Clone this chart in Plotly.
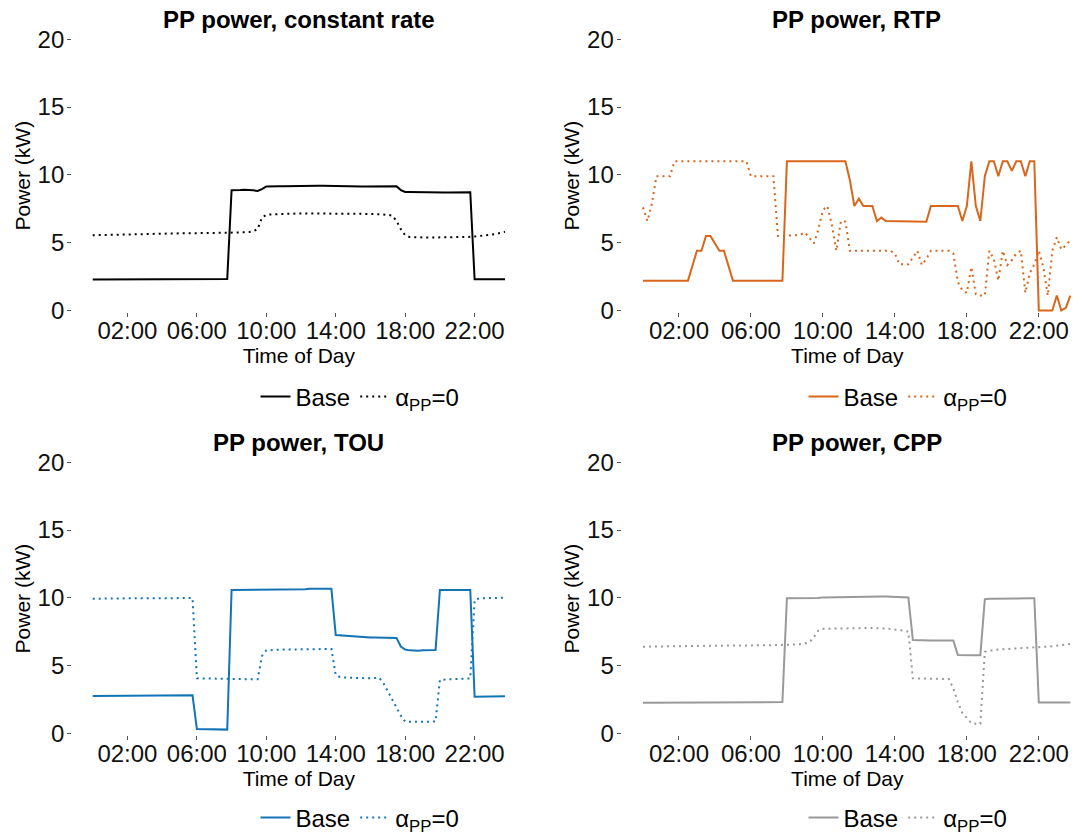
import plotly.graph_objects as go

# 15-minute resolution over one day (hours after midnight)
STEPS_PER_HOUR = 4
TIME_H = [i / STEPS_PER_HOUR for i in range(24 * STEPS_PER_HOUR)]

TICK_HOURS = [2, 6, 10, 14, 18, 22]
TICK_LABELS = ["02:00", "06:00", "10:00", "14:00", "18:00", "22:00"]
Y_TICKS = [0, 5, 10, 15, 20]

PANEL_TITLES = ["PP power, constant rate", "PP power, RTP", "PP power, TOU", "PP power, CPP"]
SERIES_NAMES = ["Base", "α<sub>PP</sub>=0"]

# ---- constant rate (kW), rows of two hours ----
CONST_BASE = [
    2.28, 2.28, 2.28, 2.28, 2.28, 2.28, 2.28, 2.28,
    2.29, 2.29, 2.29, 2.29, 2.29, 2.29, 2.29, 2.29,
    2.30, 2.30, 2.30, 2.30, 2.30, 2.30, 2.30, 2.30,
    2.31, 2.31, 2.31, 2.31, 2.32, 2.32, 2.32, 2.33,
    8.87, 8.90, 8.88, 8.90, 8.90, 8.86, 8.82, 8.95,
    9.15, 9.17, 9.17, 9.16, 9.16, 9.17, 9.17, 9.18,
    9.18, 9.19, 9.20, 9.20, 9.19, 9.19, 9.18, 9.18,
    9.17, 9.16, 9.16, 9.16, 9.16, 9.16, 9.15, 9.15,
    9.15, 9.15, 9.15, 9.16, 9.16, 9.16, 9.16, 8.88,
    8.74, 8.74, 8.73, 8.73, 8.73, 8.72, 8.72, 8.72,
    8.71, 8.71, 8.71, 8.72, 8.72, 8.72, 8.72, 8.72,
    2.30, 2.30, 2.30, 2.30, 2.30, 2.30, 2.30, 2.30,
]
CONST_PP0 = [
    5.55, 5.56, 5.57, 5.58, 5.58, 5.59, 5.60, 5.61,
    5.62, 5.63, 5.63, 5.64, 5.65, 5.65, 5.66, 5.66,
    5.67, 5.67, 5.68, 5.68, 5.69, 5.69, 5.70, 5.70,
    5.70, 5.71, 5.71, 5.72, 5.72, 5.73, 5.73, 5.73,
    5.74, 5.74, 5.75, 5.76, 5.78, 5.85, 6.00, 6.85,
    7.05, 7.08, 7.10, 7.12, 7.13, 7.14, 7.15, 7.15,
    7.16, 7.16, 7.16, 7.17, 7.17, 7.17, 7.17, 7.17,
    7.16, 7.16, 7.16, 7.15, 7.15, 7.14, 7.14, 7.13,
    7.12, 7.11, 7.10, 7.08, 7.05, 7.00, 6.60, 6.00,
    5.55, 5.42, 5.40, 5.39, 5.38, 5.38, 5.38, 5.38,
    5.38, 5.39, 5.39, 5.40, 5.40, 5.41, 5.42, 5.43,
    5.45, 5.48, 5.52, 5.56, 5.60, 5.65, 5.72, 5.80,
]

# ---- real-time pricing (kW) ----
RTP_BASE = [
    2.2, 2.2, 2.2, 2.2, 2.2, 2.2, 2.2, 2.2,
    2.2, 2.2, 2.2, 3.3, 4.4, 4.4, 5.5, 5.5,
    5.0, 4.4, 4.4, 3.3, 2.2, 2.2, 2.2, 2.2,
    2.2, 2.2, 2.2, 2.2, 2.2, 2.2, 2.2, 2.2,
    11.0, 11.0, 11.0, 11.0, 11.0, 11.0, 11.0, 11.0,
    11.0, 11.0, 11.0, 11.0, 11.0, 11.0, 9.6, 7.7,
    8.25, 7.7, 7.7, 7.7, 6.6, 6.85, 6.6, 6.6,
    6.6, 6.6, 6.6, 6.6, 6.6, 6.6, 6.57, 6.55,
    7.7, 7.7, 7.7, 7.7, 7.7, 7.7, 7.7, 6.6,
    7.7, 11.0, 7.7, 6.6, 9.9, 11.0, 11.0, 9.9,
    11.0, 11.0, 10.3, 11.0, 11.0, 9.9, 11.0, 11.0,
    0.0, 0.0, 0.0, 0.0, 1.1, 0.0, 0.2, 1.1,
]
RTP_PP0 = [
    7.6, 6.6, 7.9, 9.9, 9.9, 9.9, 9.9, 11.0,
    11.0, 11.0, 11.0, 11.0, 11.0, 11.0, 11.0, 11.0,
    11.0, 11.0, 11.0, 11.0, 11.0, 11.0, 11.0, 11.0,
    9.9, 9.9, 9.9, 9.9, 9.9, 9.9, 5.5, 5.5,
    5.5, 5.5, 5.55, 5.6, 5.75, 5.35, 4.95, 6.0,
    7.4, 7.7, 6.3, 4.4, 6.6, 6.55, 4.4, 4.4,
    4.4, 4.4, 4.4, 4.4, 4.4, 4.4, 4.4, 4.4,
    4.2, 3.4, 3.4, 3.4, 3.9, 4.4, 3.35, 3.8,
    4.4, 4.4, 4.4, 4.4, 4.4, 4.2, 2.1, 1.5,
    1.3, 3.2, 1.2, 1.1, 1.1, 4.4, 3.8, 2.2,
    4.4, 3.35, 3.7, 4.2, 4.4, 1.3, 2.75, 3.4,
    4.4, 3.2, 1.1, 4.4, 5.4, 4.5, 4.8, 5.2,
]

# ---- time-of-use (kW) ----
TOU_BASE = [
    2.75, 2.75, 2.75, 2.75, 2.75, 2.75, 2.75, 2.75,
    2.76, 2.76, 2.76, 2.76, 2.76, 2.76, 2.76, 2.76,
    2.78, 2.78, 2.78, 2.78, 2.79, 2.79, 2.79, 2.80,
    0.32, 0.31, 0.30, 0.30, 0.29, 0.28, 0.28, 0.27,
    10.58, 10.58, 10.58, 10.58, 10.58, 10.58, 10.58, 10.58,
    10.58, 10.58, 10.59, 10.59, 10.60, 10.60, 10.60, 10.61,
    10.62, 10.63, 10.66, 10.66, 10.66, 10.66, 10.66, 10.66,
    7.25, 7.22, 7.20, 7.18, 7.15, 7.12, 7.08, 7.07,
    7.06, 7.06, 7.06, 7.06, 7.06, 7.05, 7.04, 6.40,
    6.18, 6.12, 6.10, 6.10, 6.12, 6.12, 6.14, 6.15,
    10.58, 10.58, 10.58, 10.58, 10.58, 10.58, 10.58, 10.58,
    2.70, 2.70, 2.72, 2.72, 2.72, 2.73, 2.73, 2.73,
]
TOU_PP0 = [
    9.93, 9.94, 9.94, 9.95, 9.95, 9.95, 9.95, 9.95,
    9.96, 9.96, 9.96, 9.96, 9.96, 9.96, 9.96, 9.96,
    9.97, 9.97, 9.97, 9.98, 9.98, 9.98, 9.98, 9.98,
    4.06, 4.05, 4.04, 4.03, 4.02, 4.01, 4.00, 3.99,
    3.98, 3.98, 3.98, 3.98, 3.98, 3.98, 3.99, 5.70,
    6.12, 6.15, 6.16, 6.17, 6.18, 6.18, 6.19, 6.19,
    6.20, 6.20, 6.21, 6.22, 6.23, 6.22, 6.22, 6.22,
    4.30, 4.15, 4.12, 4.10, 4.08, 4.07, 4.06, 4.06,
    4.06, 4.06, 4.10, 3.70, 3.10, 2.50, 1.97, 1.30,
    0.86, 0.85, 0.85, 0.85, 0.85, 0.85, 0.86, 0.86,
    3.93, 3.97, 3.98, 3.99, 4.00, 4.02, 4.03, 4.05,
    9.84, 9.95, 9.97, 9.98, 9.99, 10.0, 10.0, 10.0,
]

# ---- critical peak pricing (kW) ----
CPP_BASE = [
    2.26, 2.26, 2.26, 2.26, 2.26, 2.26, 2.26, 2.26,
    2.27, 2.27, 2.27, 2.27, 2.27, 2.27, 2.27, 2.27,
    2.28, 2.28, 2.28, 2.28, 2.28, 2.28, 2.28, 2.28,
    2.29, 2.29, 2.29, 2.29, 2.30, 2.30, 2.30, 2.30,
    9.96, 9.96, 9.95, 9.95, 9.95, 9.94, 9.94, 9.98,
    10.03, 10.04, 10.05, 10.05, 10.06, 10.06, 10.06, 10.07,
    10.08, 10.08, 10.09, 10.10, 10.10, 10.10, 10.09, 10.08,
    10.06, 10.05, 10.04, 10.03, 6.89, 6.87, 6.86, 6.85,
    6.85, 6.85, 6.85, 6.85, 6.85, 6.84, 5.78, 5.76,
    5.75, 5.75, 5.75, 5.75, 9.90, 9.92, 9.93, 9.94,
    9.95, 9.95, 9.96, 9.96, 9.96, 9.96, 9.96, 9.96,
    2.28, 2.28, 2.28, 2.28, 2.28, 2.28, 2.28, 2.28,
]
CPP_PP0 = [
    6.39, 6.39, 6.40, 6.40, 6.41, 6.41, 6.42, 6.42,
    6.43, 6.43, 6.44, 6.44, 6.45, 6.45, 6.46, 6.46,
    6.47, 6.47, 6.47, 6.48, 6.48, 6.48, 6.49, 6.49,
    6.49, 6.50, 6.50, 6.50, 6.50, 6.51, 6.51, 6.51,
    6.52, 6.53, 6.55, 6.58, 6.62, 6.72, 7.10, 7.60,
    7.70, 7.72, 7.73, 7.74, 7.75, 7.75, 7.76, 7.76,
    7.77, 7.77, 7.77, 7.77, 7.76, 7.75, 7.73, 7.70,
    7.65, 7.62, 7.58, 7.50, 4.06, 4.05, 4.05, 4.05,
    4.05, 4.05, 4.05, 4.05, 4.00, 3.30, 2.30, 1.50,
    1.10, 0.75, 0.70, 0.70, 6.02, 6.10, 6.15, 6.18,
    6.20, 6.22, 6.23, 6.25, 6.26, 6.27, 6.28, 6.30,
    6.32, 6.35, 6.38, 6.42, 6.46, 6.50, 6.55, 6.59,
]

PANEL_SERIES = [
    (CONST_BASE, CONST_PP0),
    (RTP_BASE, RTP_PP0),
    (TOU_BASE, TOU_PP0),
    (CPP_BASE, CPP_PP0),
]
PANEL_COLORS = ["#000000", "#D9661A", "#1374B5", "#999999"]

# ---- layout geometry (paper fractions, 1073 x 835 canvas) ----
W, H = 1073, 835
FONT = "Liberation Sans, Arial, Helvetica, sans-serif"
X_DOMAINS = [[72.1 / W, 525.6 / W], [621.6 / W, 1.0]]
X_RANGES = [[-1.1875, 24.9375], [-1.1875, 23.90]]
Y_DOMAINS = [[1 - 312.1 / H, 1 - 39.3 / H], [1 - 734.9 / H, 1 - 462.3 / H]]
Y_RANGE = [-0.12, 20]
TITLE_Y = [1 - 20 / H, 1 - 442 / H]
TITLE_X = [298.9 / W, 856.6 / W]
LEGEND_X = [360 / W, 908 / W]
LEGEND_Y = [1 - 397 / H, 1 - 818 / H]

fig = go.Figure()
layout = dict(
    template="none",
    width=W, height=H,
    margin=dict(l=0, r=0, t=0, b=0, autoexpand=False),
    paper_bgcolor="white", plot_bgcolor="white",
    font=dict(family=FONT, color="#000000"),
    annotations=[],
)

for k, (base, pp0) in enumerate(PANEL_SERIES):
    row, col = divmod(k, 2)
    sfx = "" if k == 0 else str(k + 1)
    xa, ya = "x" + sfx, "y" + sfx
    leg = "legend" + sfx
    color = PANEL_COLORS[k]

    fig.add_trace(go.Scatter(
        x=TIME_H, y=base, mode="lines", name=SERIES_NAMES[0],
        line=dict(color=color, width=2), xaxis=xa, yaxis=ya, legend=leg,
    ))
    fig.add_trace(go.Scatter(
        x=TIME_H, y=pp0, mode="lines", name=SERIES_NAMES[1],
        line=dict(color=color, width=2, dash="2px,4px"), xaxis=xa, yaxis=ya, legend=leg,
    ))

    layout["xaxis" + sfx] = dict(
        domain=X_DOMAINS[col], range=X_RANGES[col], anchor=ya, automargin=False,
        tickvals=TICK_HOURS, ticktext=TICK_LABELS,
        ticks="outside", ticklen=4, tickwidth=1, tickcolor="#555555",
        ticklabelstandoff=-7,
        tickfont=dict(size=24, color="#111111", family=FONT),
        showgrid=False, zeroline=False, showline=False,
        title=dict(text="Time of Day", font=dict(size=21, family=FONT), standoff=1),
    )
    layout["yaxis" + sfx] = dict(
        domain=Y_DOMAINS[row], range=Y_RANGE, anchor=xa, automargin=False,
        tickvals=Y_TICKS,
        ticks="outside", ticklen=4, tickwidth=1, tickcolor="#555555",
        ticklabelstandoff=-2,
        tickfont=dict(size=24, color="#111111", family=FONT),
        showgrid=False, zeroline=False, showline=False,
        title=dict(text="Power (kW)", font=dict(size=21, family=FONT), standoff=1),
    )
    layout[leg] = dict(
        orientation="h", x=LEGEND_X[col], y=LEGEND_Y[row],
        xanchor="center", yanchor="middle",
        font=dict(size=24, family=FONT), bgcolor="rgba(0,0,0,0)",
        itemwidth=30, tracegroupgap=0,
    )
    layout["annotations"].append(dict(
        text="<b>" + PANEL_TITLES[k] + "</b>", xref="paper", yref="paper",
        x=TITLE_X[col], y=TITLE_Y[row], xanchor="center", yanchor="middle",
        showarrow=False, font=dict(size=24, family=FONT, color="#000000"),
    ))

fig.update_layout(**layout)
fig.write_html("out.html")
